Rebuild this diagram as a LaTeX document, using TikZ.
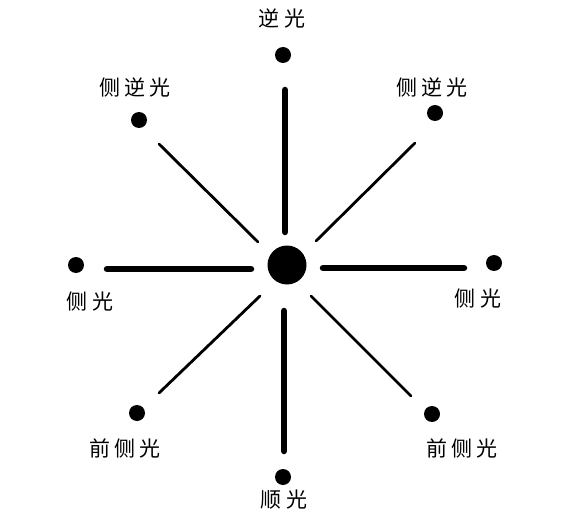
\documentclass[tikz,border=0pt]{standalone}
\usepackage{fontspec}
\newfontfamily\cjk{Noto Sans CJK SC}
\begin{document}
\begin{tikzpicture}[x=1pt,y=-1pt,
  dot/.style={circle,fill=black,inner sep=0pt,minimum size=16pt},
  lbl/.style={font=\cjk\fontsize{21pt}{21pt}\selectfont,inner sep=0pt},
  thickray/.style={line width=6.5pt,line cap=round},
  thinray/.style={line width=2.8pt,line cap=round}]
\useasboundingbox (0,0) rectangle (578,513);
\fill[white] (0,0) rectangle (578,513);
% centre
\node[circle,fill=black,inner sep=0pt,minimum size=39pt] (c) at (287,265) {};
% dots
\node[dot] (dT) at (283,55) {};
\node[dot] (dTL) at (139,120) {};
\node[dot] (dTR) at (435,113) {};
\node[dot] (dL) at (76,265) {};
\node[dot] (dR) at (494,263) {};
\node[dot] (dBL) at (137,413) {};
\node[dot] (dBR) at (432,414) {};
\node[dot] (dB) at (283,477) {};
% labels
\node[lbl] (tT) at (282,18) {逆\hspace{5pt}光};
\node[lbl] (tTL) at (135,87) {侧\hspace{4pt}逆\hspace{4pt}光};
\node[lbl] (tTR) at (432,87) {侧\hspace{4pt}逆\hspace{4pt}光};
\node[lbl] (tL) at (90,302) {侧\hspace{5pt}光};
\node[lbl] (tR) at (478,299) {侧\hspace{5pt}光};
\node[lbl] (tBL) at (125,448) {前\hspace{4pt}侧\hspace{4pt}光};
\node[lbl] (tBR) at (462,448) {前\hspace{4pt}侧\hspace{4pt}光};
\node[lbl] (tB) at (284,500) {顺\hspace{5pt}光};
% ray end points
\coordinate (a1) at (285,90);  \coordinate (a2) at (285,232);
\coordinate (b1) at (107,269); \coordinate (b2) at (251,269);
\coordinate (e1) at (323,268); \coordinate (e2) at (464,268);
\coordinate (f1) at (284,311); \coordinate (f2) at (284,451);
\coordinate (g1) at (159,144); \coordinate (g2) at (258,242);
\coordinate (h1) at (415,143); \coordinate (h2) at (316,241);
\coordinate (i1) at (260,296); \coordinate (i2) at (159,393);
\coordinate (j1) at (311,296); \coordinate (j2) at (411,396);
% rays
\draw[thickray] (a1) -- (a2);
\draw[thickray] (b1) -- (b2);
\draw[thickray] (e1) -- (e2);
\draw[thickray] (f1) -- (f2);
\draw[thinray] (g1) -- (g2);
\draw[thinray] (h1) -- (h2);
\draw[thinray] (i1) -- (i2);
\draw[thinray] (j1) -- (j2);
\end{tikzpicture}
\end{document}
